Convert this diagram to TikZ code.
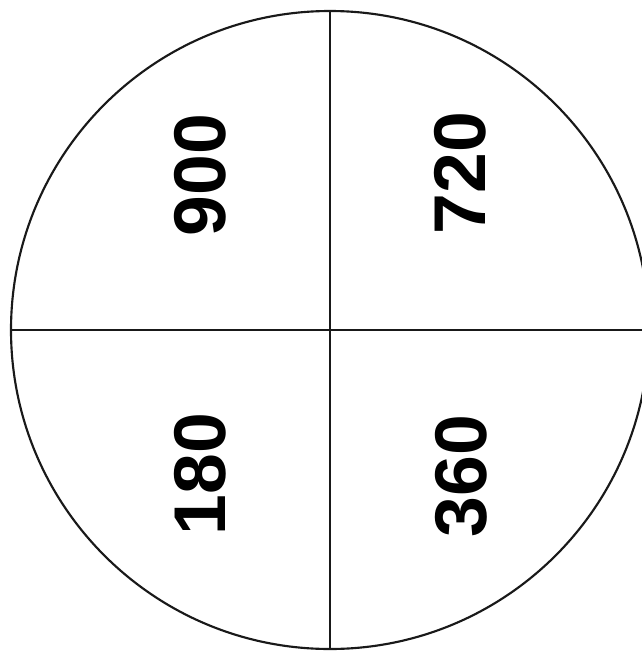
\documentclass[tikz,border=0pt]{standalone}
\usepackage{fontspec}
\setmainfont{Liberation Sans}
\tikzset{
	zahl/.style={rotate=90, inner sep=0pt, font=\fontsize{55}{60}\selectfont\bfseries},
	teil/.style={line width=2pt, black!90},
}
\begin{document}
\begin{tikzpicture}[x=0.75pt,y=-0.75pt]
	\clip (0,0) rectangle (642,651);
	% Mittelpunkt und Randpunkte
	\coordinate (M) at (330,330);
	\coordinate (oben) at (330,11);
	\coordinate (unten) at (330,649);
	\coordinate (links) at (11,330);
	\coordinate (rechts) at (649,330);
	% Kreis
	\draw[line width=1.6pt, black!90] (M) circle (319);
	% Teilung in vier Felder
	\draw[teil] (oben)--(unten);
	\draw[teil] (links)--(rechts);
	% Zahlen
	\node[zahl] (z900) at (200,175) {900};
	\node[zahl] (z720) at (460,173) {720};
	\node[zahl] (z180) at (200,474) {180};
	\node[zahl] (z360) at (461,476) {360};
\end{tikzpicture}
\end{document}
